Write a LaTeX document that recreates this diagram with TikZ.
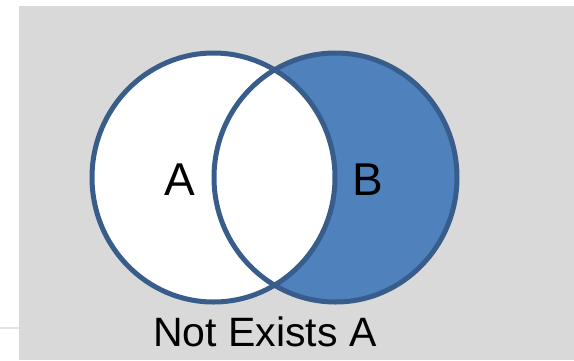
\documentclass[tikz,border=0pt]{standalone}
\usepackage{fontspec}
\setmainfont{Liberation Sans}
\usetikzlibrary{positioning}
\definecolor{vnback}{RGB}{217,217,217}
\definecolor{vnedge}{RGB}{56,93,138}
\definecolor{vnfill}{RGB}{79,129,189}
\definecolor{vnrule}{RGB}{228,228,228}
\tikzset{
  setedge/.style={draw=vnedge,line width=5pt},
  setlabel/.style={font=\fontsize{46}{50}\selectfont,text=black,inner sep=0pt},
  captionlabel/.style={font=\fontsize{41}{45}\selectfont,text=black,inner sep=0pt}
}
\begin{document}
\begin{tikzpicture}[x=1pt,y=-1pt]
  \useasboundingbox (0,0) rectangle (574,360);
  \fill[vnback] (19,6) rectangle (574,360);
  \draw[line width=2pt,vnrule] (0,328) -- (19,328);
  \coordinate (cA) at (213.5,177.5);
  \coordinate (cB) at (335.5,177.5);
  % set B shaded, the overlap stays white
  \fill[vnfill] (cB) ellipse [x radius=121.5,y radius=124.5];
  \fill[white] (cA) ellipse [x radius=121.5,y radius=124.5];
  \draw[setedge] (cA) ellipse [x radius=121.5,y radius=124.5];
  \draw[setedge] (cB) ellipse [x radius=121.5,y radius=124.5];
  \node[setlabel] (labA) at (180,179.5) {A};
  \node[setlabel] (labB) at (368,179.5) {B};
  \node[captionlabel,anchor=base] (caption) at (265,346) {Not Exists A};
\end{tikzpicture}
\end{document}
